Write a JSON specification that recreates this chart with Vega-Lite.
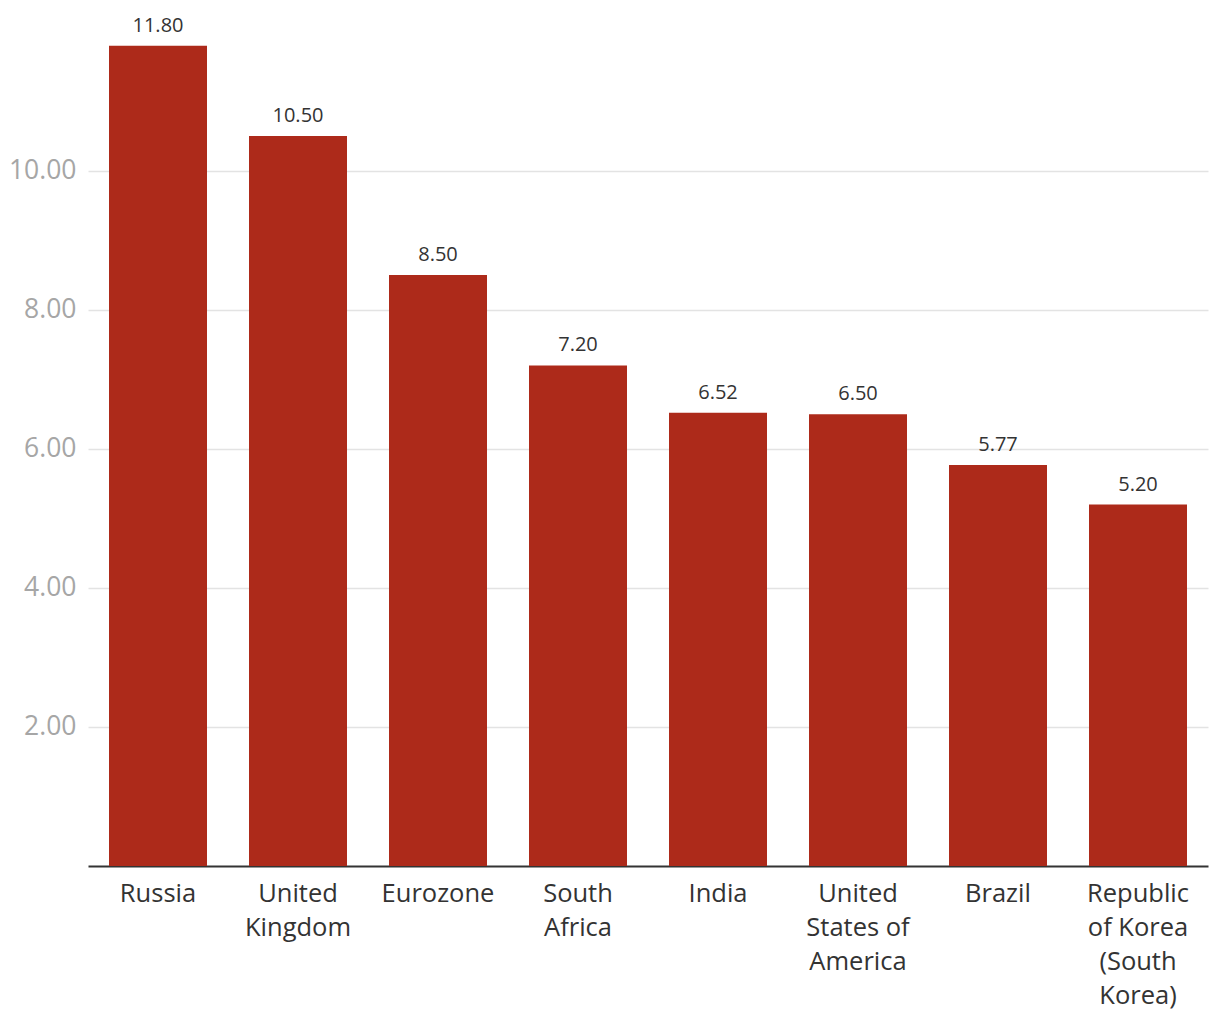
{
  "$schema": "https://vega.github.io/schema/vega-lite/v6.json",
  "autosize": "none",
  "width": 1120,
  "height": 862,
  "padding": {"left": 88, "top": 4, "right": 12, "bottom": 154},
  "background": "white",
  "config": {"view": {"stroke": null}, "font": "Open Sans"},
  "data": {
    "values": [
      {"country": "Russia", "order": 1, "value": 11.80},
      {"country": "United|Kingdom", "order": 2, "value": 10.50},
      {"country": "Eurozone", "order": 3, "value": 8.50},
      {"country": "South|Africa", "order": 4, "value": 7.20},
      {"country": "India", "order": 5, "value": 6.52},
      {"country": "United|States of|America", "order": 6, "value": 6.50},
      {"country": "Brazil", "order": 7, "value": 5.77},
      {"country": "Republic|of Korea|(South|Korea)", "order": 8, "value": 5.20}
    ]
  },
  "encoding": {
    "x": {
      "field": "country",
      "type": "nominal",
      "sort": {"field": "order"},
      "scale": {"paddingInner": 0.3, "paddingOuter": 0.15},
      "axis": {
        "title": null,
        "labelAngle": 0,
        "labelExpr": "split(datum.label, '|')",
        "labelFont": "Open Sans",
        "labelFontSize": 25.5,
        "labelLineHeight": 34,
        "labelColor": "#333333",
        "labelPadding": 15,
        "ticks": false,
        "domainColor": "#333333",
        "domainWidth": 2,
        "grid": false
      }
    },
    "y": {
      "field": "value",
      "type": "quantitative",
      "scale": {"domain": [0, 12.4], "nice": false},
      "axis": {
        "title": null,
        "values": [2, 4, 6, 8, 10],
        "format": ".2f",
        "labelFont": "Open Sans",
        "labelFontSize": 26.5,
        "labelColor": "#a6a6a6",
        "labelPadding": 12,
        "ticks": false,
        "domain": false,
        "grid": true,
        "gridColor": "#e3e3e3",
        "gridWidth": 1.5
      }
    }
  },
  "layer": [
    {"mark": {"type": "bar", "color": "#ad2a1a"}},
    {
      "mark": {"type": "text", "baseline": "bottom", "dy": -10, "fontSize": 20, "color": "#333333", "font": "Open Sans"},
      "encoding": {"text": {"field": "value", "type": "quantitative", "format": ".2f"}}
    }
  ]
}
